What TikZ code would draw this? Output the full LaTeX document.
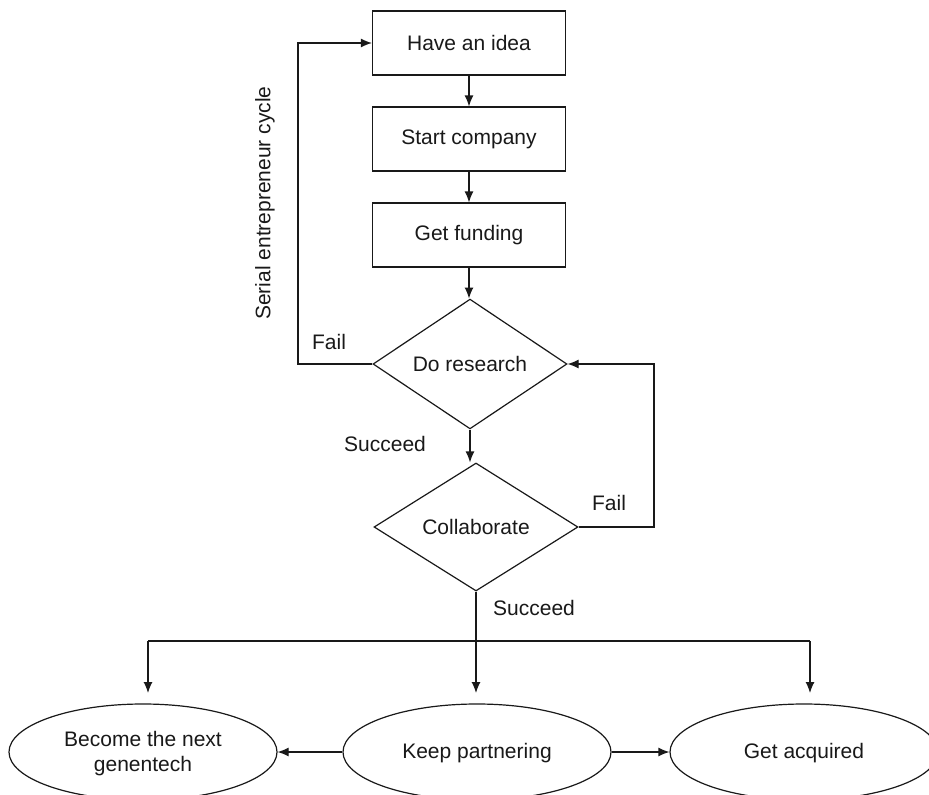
\documentclass[tikz,border=0pt]{standalone}
\usepackage{fontspec}
\setmainfont{Liberation Sans}
\usetikzlibrary{arrows.meta,shapes.geometric}
\begin{document}
\begin{tikzpicture}[x=1pt,y=-1pt,
  every node/.style={font=\fontsize{21}{25}\selectfont, inner sep=0pt, text=black!90},
  conn/.style={line width=1.2pt, draw=black!90},
  arr/.style={conn, -{Latex[length=11pt,width=9pt]}},
  stepbox/.style={draw=black!90, line width=1.2pt, rectangle, minimum width=193pt, minimum height=64pt},
  decide/.style={draw=black!90, line width=1.2pt, diamond, minimum width=#1, minimum height=128pt},
  outcome/.style={draw=black!90, line width=1.2pt, ellipse, minimum width=268pt, minimum height=96pt, align=center},
  lbl/.style={}
]
\clip (0,0) rectangle (929,795);
\fill[white] (0,0) rectangle (929,795);

\node[stepbox] (idea)  at (469,43)  {Have an idea};
\node[stepbox] (start) at (469,139) {Start company};
\node[stepbox] (fund)  at (469,235) {Get funding};
\node[decide=194pt] (research) at (470,364) {Do research};
\node[decide=204pt] (collab)   at (476,527) {Collaborate};

\node[outcome] (left)  at (143,752) {};
\node[outcome] (mid)   at (477,752) {};
\node[outcome] (right) at (804,752) {};
\node (lefttxt)  at (143,754) [align=center] {Become the next\\genentech};
\node (midtxt)   at (477,753) {Keep partnering};
\node (righttxt) at (804,753) {Get acquired};

% vertical chain
\draw[arr] (idea.south) -- (idea.south |- start.north);
\draw[arr] (start.south) -- (start.south |- fund.north);
\draw[arr] (fund.south) -- (fund.south |- research.north);
\draw[arr] (research.south) -- (research.south |- collab.north);

% serial entrepreneur loop
\coordinate (lc) at (298,364);
\draw[arr] (research.west) -- (lc) |- (idea.west);
% fail loop from collaborate
\coordinate (rc) at (654,527);
\draw[arr] (collab.east) -- (rc) |- (research.east);

% distribution
\coordinate (bus) at (476,641);
\coordinate (bl) at (148,641);
\coordinate (br) at (810,641);
\coordinate (tl) at (148,693);
\coordinate (tm) at (476,693);
\coordinate (tr) at (810,693);
\draw[conn] (collab.south) -- (bus);
\draw[conn] (bl) -- (br);
\draw[arr] (bl) -- (tl);
\draw[arr] (bus) -- (tm);
\draw[arr] (br) -- (tr);

\draw[arr] (mid.west) -- (left.east);
\draw[arr] (mid.east) -- (right.west);

% labels
\node[lbl] (fail1) at (329,342) {Fail};
\node[lbl] (succ1) at (385,444) {Succeed};
\node[lbl] (fail2) at (609,503) {Fail};
\node[lbl] (succ2) at (534,608) {Succeed};
\node[lbl, rotate=90] (serial) at (265,203) {Serial entrepreneur cycle};
\end{tikzpicture}
\end{document}
